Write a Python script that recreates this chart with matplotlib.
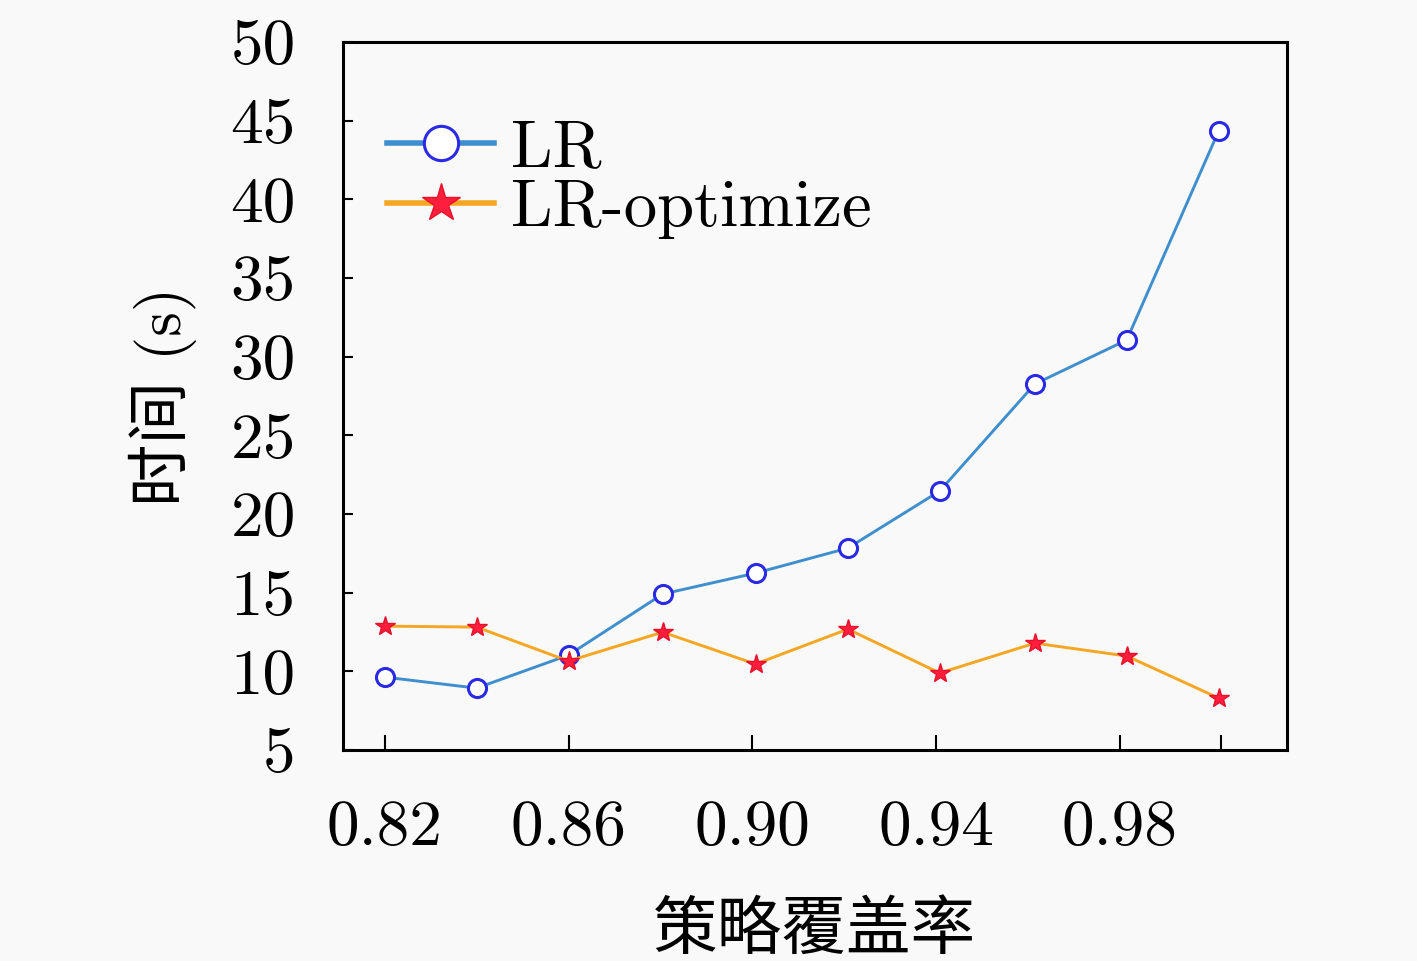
import matplotlib
matplotlib.use("Agg")
import matplotlib.pyplot as plt

# coverage values (x) and run times (s)
coverage = [0.820, 0.840, 0.860, 0.8805, 0.9007, 0.9208, 0.9408, 0.9615, 0.9815, 1.0015]
lr_time = [9.63, 8.93, 11.03, 14.91, 16.24, 17.83, 21.46, 28.26, 31.06, 44.34]
lr_opt_time = [12.87, 12.81, 10.65, 12.49, 10.46, 12.68, 9.89, 11.79, 10.97, 8.30]

x_ticks = [0.82, 0.86, 0.90, 0.94, 0.98, 1.002]
x_tick_labels = ["0.82", "0.86", "0.90", "0.94", "0.98", ""]
y_ticks = [5, 10, 15, 20, 25, 30, 35, 40, 45, 50]

plt.rcParams['font.family'] = ['cmr10', 'Noto Sans CJK SC', 'DejaVu Sans']
plt.rcParams['axes.formatter.use_mathtext'] = True

bg = '#f9f9f9'
fig = plt.figure(figsize=(14.17, 9.61), dpi=100, facecolor=bg)
ax = fig.add_axes([0.242, 0.2196, 0.666, 0.7367], facecolor=bg)

ax.plot(coverage, lr_time, color='#3f8fcf', lw=2.1, marker='o', ms=13,
        mfc='white', mec='#2a2ae6', mew=2.2, label='LR')
ax.plot(coverage, lr_opt_time, color='#f5a623', lw=2.1, marker='*', ms=15,
        mfc='#ff1f3d', mec='#e8102a', mew=1.0, label='LR-optimize')

ax.set_xlim(0.8109, 1.0163)
ax.set_ylim(5, 50)
ax.set_xticks(x_ticks)
ax.set_xticklabels(x_tick_labels)
ax.set_yticks(y_ticks)
ax.set_yticklabels([str(v) for v in y_ticks])
ax.tick_params(axis='x', direction='in', length=11, width=1.5, pad=36, labelsize=47)
ax.tick_params(axis='y', direction='in', length=7, width=1.5, pad=34, labelsize=47)

for s in ax.spines.values():
    s.set_linewidth(2.2)

ax.set_xlabel('策略覆盖率', fontsize=46.5, labelpad=32)
ax.set_ylabel('时间 (s)', fontsize=45, labelpad=24)

leg = ax.legend(loc='upper left', bbox_to_anchor=(0.047, 0.89), frameon=False,
                fontsize=48, handlelength=1.6, handletextpad=0.25, labelspacing=0.0,
                borderpad=0.0, borderaxespad=0.0, markerscale=1.9)
for h in leg.legend_handles:
    h.set_linewidth(4.0)

fig.savefig('out.png', dpi=100, facecolor=bg)
